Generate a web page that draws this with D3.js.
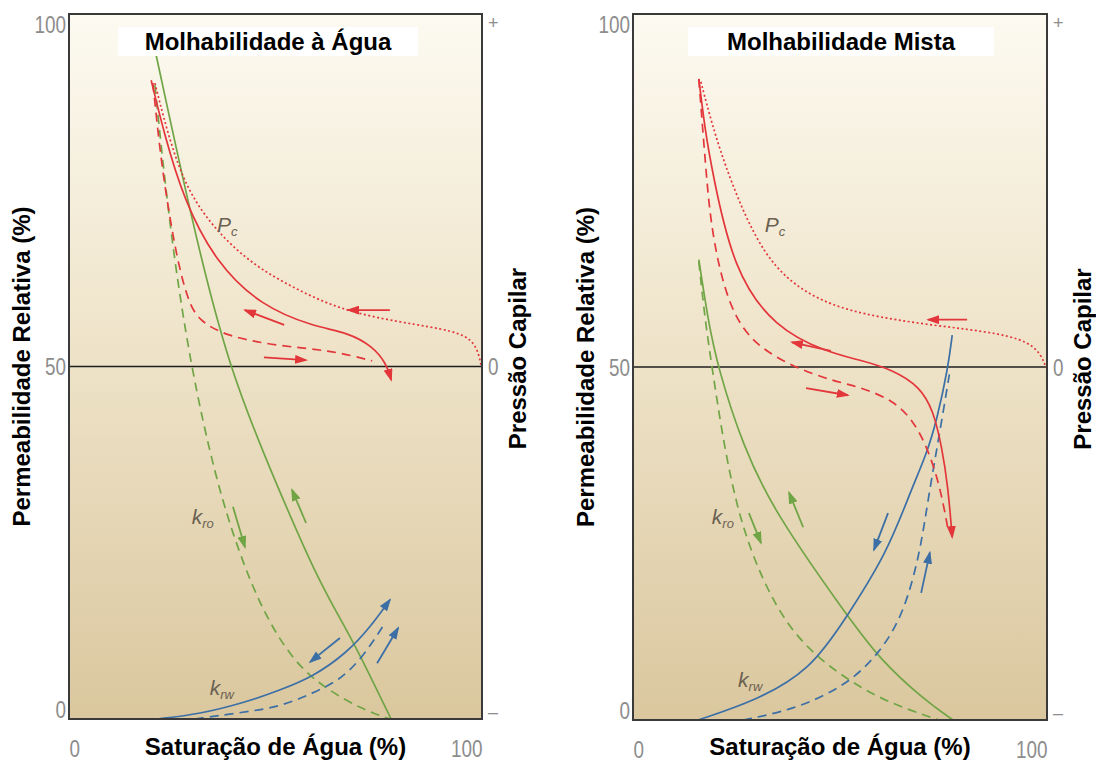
<!DOCTYPE html>
<html>
<head>
<meta charset="utf-8">
<script src="https://cdn.jsdelivr.net/npm/d3@7"></script>
<style>
  body { margin: 0; background: #fff; }
  svg text { font-family: "Liberation Sans", Arial, sans-serif; }
</style>
</head>
<body>
<svg id="chart" width="1096" height="762"></svg>
<script>
// values are [water saturation %, value %]; Pc uses the same vertical axis (50 = Pc zero)
const xTicks = [0, 100];
const yTicks = [0, 50, 100];
const pcTicks = [0, 50, 100];
const pcTickLabels = ["\u2013", "0", "+"];
const curveLabelText = [["P", "c"], ["k", "ro"], ["k", "rw"]];

// --- Molhabilidade à Água
const waterKroSolid = [[20.3, 96.3], [21.1, 94.2], [29.3, 71.8], [38.5, 49.8], [50.8, 32.5], [60.3, 19.7], [67.3, 12.6], [72.2, 7.0], [78.0, 0]];
const waterKroDashed = [[20.8, 89.9], [24.5, 68.9], [29.5, 49.8], [35.6, 33.9], [40.9, 24.0], [46.7, 15.5], [54.0, 8.4], [61.5, 4.5], [71.2, 1.3], [77.7, 0]];
const waterKrwSolid = [[21.3, 0], [31.7, 0.7], [42.4, 2.3], [51.1, 4.1], [59.1, 6.0], [67.3, 9.4], [72.9, 13.0], [77.7, 16.9]];
const waterKrwDashed = [[30.5, 0], [41.4, 0.9], [51.1, 1.7], [59.1, 3.7], [65.6, 5.5], [71.2, 8.8], [76.5, 13.6]];
const waterPcSolid = [[19.9, 90.6], [23.0, 83.1], [27.8, 73.6], [35.6, 64.7], [46.5, 58.6], [59.1, 55.7], [67.6, 54.8], [73.4, 52.9], [76.8, 50.5], [78.0, 48.1]];
const waterPcDashed = [[20.3, 90.2], [22.0, 80.7], [23.7, 73.6], [26.2, 65.1], [28.8, 59.4], [31.2, 56.6], [38.0, 54.3], [50.6, 52.9], [63.4, 52.3], [73.4, 50.8]];
const waterPcDotted = [[20.8, 90.2], [24.9, 80.7], [30.5, 72.6], [42.4, 65.1], [55.0, 60.9], [67.6, 57.6], [84.5, 55.9], [95.4, 54.8], [98.8, 52.9], [99.8, 50.1]];
const waterArrows = [
  ["pcDotted", 77.7, 58.0, 67.6, 58.0],
  ["pcSolid", 52.1, 55.9, 42.6, 58.0],
  ["pcDashed", 47.2, 51.3, 57.4, 50.9],
  ["kroSolid", 57.4, 27.8, 54.0, 32.5],
  ["kroDashed", 39.7, 30.1, 42.6, 24.4],
  ["krwSolid", 65.6, 11.5, 58.4, 8.1],
  ["krwDashed", 74.6, 7.9, 79.7, 12.9]
];
const waterLabelPos = [[38.3, 70.1], [32.4, 28.7], [37.0, 4.4]];

// --- Molhabilidade Mista
const mixedKroSolid = [[15.9, 65.2], [18.1, 56.7], [20.5, 49.9], [26.6, 38.7], [34.3, 29.3], [51.2, 15.2], [59.7, 8.5], [70.5, 2.8], [77.3, 0]];
const mixedKroDashed = [[15.9, 64.9], [17.4, 56.7], [19.1, 49.9], [22.0, 38.7], [25.8, 28.3], [31.2, 19.8], [37.9, 12.7], [46.9, 7.6], [59.7, 2.8], [73.9, 0]];
const mixedKrwSolid = [[15.7, 0], [30.0, 2.8], [42.8, 7.1], [51.2, 14.2], [61.4, 23.7], [66.9, 32.2], [71.0, 37.8], [73.4, 42.5], [76.1, 49.9], [77.1, 54.5]];
const mixedKrwDashed = [[26.6, 0], [38.4, 1.4], [51.2, 4.7], [59.7, 9.5], [65.5, 15.2], [69.3, 23.7], [71.0, 30.2], [72.9, 36.8], [74.6, 42.5], [76.6, 49.6]];
const mixedPcSolid = [[15.9, 90.8], [17.4, 83.6], [19.1, 77.8], [24.2, 63.7], [34.3, 55.5], [46.9, 52.1], [54.8, 51.0], [62.8, 49.6], [69.3, 47.2], [72.5, 43.9], [74.6, 38.7], [76.1, 33.0], [77.1, 25.9]];
const mixedPcDashed = [[15.9, 90.8], [17.6, 77.9], [19.1, 68.1], [24.2, 55.9], [34.3, 51.1], [46.9, 48.2], [54.8, 47.2], [62.8, 45.3], [67.6, 42.5], [71.0, 38.7], [73.7, 34.0], [75.4, 29.3], [76.1, 26.9]];
const mixedPcDotted = [[16.4, 90.4], [19.1, 84.3], [23.2, 76.8], [31.6, 65.2], [42.8, 59.8], [55.3, 57.4], [72.2, 55.9], [89.1, 54.8], [97.6, 53.1], [99.8, 49.9]];
const mixedArrows = [
  ["pcDotted", 80.7, 56.7, 71.3, 56.7],
  ["pcSolid", 47.8, 52.3, 38.4, 53.5],
  ["pcDashed", 41.8, 47.0, 51.9, 46.0],
  ["kroSolid", 41.1, 27.3, 37.7, 32.2],
  ["kroDashed", 28.0, 29.3, 30.9, 25.1],
  ["krwSolid", 61.6, 29.3, 58.2, 24.1],
  ["krwDashed", 69.6, 18.0, 71.7, 23.7]
];
const mixedLabelPos = [[34.3, 70.1], [21.7, 28.8], [28.3, 5.7]];

const RED = "#e3363b", GREEN = "#70a546", BLUE = "#3b6fa6";
const styles = {
  kroSolid:  { color: GREEN, dash: null },
  kroDashed: { color: GREEN, dash: "9,6" },
  krwSolid:  { color: BLUE,  dash: null },
  krwDashed: { color: BLUE,  dash: "9,6" },
  pcSolid:   { color: RED,   dash: null },
  pcDashed:  { color: RED,   dash: "9,6" },
  pcDotted:  { color: RED,   dash: "2,2.5" }
};

const panels = [
  {
    title: "Molhabilidade à Água", left: 69, top: 14, w: 413, h: 705,
    titleCx: 268, boxW: 300,
    curves: { kroSolid: waterKroSolid, kroDashed: waterKroDashed, krwSolid: waterKrwSolid, krwDashed: waterKrwDashed,
              pcDashed: waterPcDashed, pcDotted: waterPcDotted, pcSolid: waterPcSolid },
    endArrows: ["pcSolid", "krwSolid"], arrows: waterArrows, labels: waterLabelPos
  },
  {
    title: "Molhabilidade Mista", left: 633, top: 14, w: 414, h: 706,
    titleCx: 841, boxW: 306,
    curves: { kroSolid: mixedKroSolid, kroDashed: mixedKroDashed, krwSolid: mixedKrwSolid, krwDashed: mixedKrwDashed,
              pcDashed: mixedPcDashed, pcDotted: mixedPcDotted, pcSolid: mixedPcSolid },
    endArrows: ["pcSolid"], arrows: mixedArrows, labels: mixedLabelPos
  }
];

const svg = d3.select("#chart");
const defs = svg.append("defs");

const grad = defs.append("linearGradient").attr("id", "bg-grad")
  .attr("x1", "0%").attr("x2", "0%").attr("y1", "0%").attr("y2", "100%");
grad.append("stop").attr("offset", "0%").attr("stop-color", "#fcfaf1");
grad.append("stop").attr("offset", "40%").attr("stop-color", "#f1e7cf");
grad.append("stop").attr("offset", "100%").attr("stop-color", "#dac79e");

// one arrowhead marker per colour
[["red", RED], ["green", GREEN], ["blue", BLUE]].forEach(([name, col]) => {
  defs.append("marker")
    .attr("id", "head-" + name)
    .attr("viewBox", "0 0 13 9")
    .attr("refX", 11).attr("refY", 4.5)
    .attr("markerUnits", "userSpaceOnUse")
    .attr("markerWidth", 13).attr("markerHeight", 9)
    .attr("orient", "auto")
    .append("path").attr("d", "M0,0 L13,4.5 L0,9 Z").attr("fill", col);
});
const headFor = col => col === RED ? "url(#head-red)" : col === GREEN ? "url(#head-green)" : "url(#head-blue)";

// narrow-looking tick digits: squeeze each label to ~10px per character
function squeeze(sel, size) {
  sel.attr("font-size", size).attr("fill", "#8d8d8d")
    .attr("lengthAdjust", "spacingAndGlyphs")
    .attr("textLength", function () { return this.textContent.length * 10.5; });
}

panels.forEach(p => {
  const x = d3.scaleLinear().domain([0, 100]).range([p.left, p.left + p.w]);
  const y = d3.scaleLinear().domain([0, 100]).range([p.top + p.h, p.top]);
  const g = svg.append("g");

  g.append("rect")
    .attr("x", p.left).attr("y", p.top).attr("width", p.w).attr("height", p.h)
    .attr("fill", "url(#bg-grad)");

  // Pc = 0 line
  g.append("line")
    .attr("x1", x(0)).attr("x2", x(100)).attr("y1", y(50)).attr("y2", y(50))
    .attr("stroke", "#1e1e1e").attr("stroke-width", 1.5);

  const line = d3.line()
    .x(d => x(d[0])).y(d => y(d[1]))
    .curve(d3.curveBasis);

  Object.entries(p.curves).forEach(([key, pts]) => {
    const st = styles[key];
    g.append("path")
      .attr("d", line(pts))
      .attr("fill", "none")
      .attr("stroke", st.color)
      .attr("stroke-width", 1.7)
      .attr("stroke-dasharray", st.dash)
      .attr("marker-end", p.endArrows.includes(key) ? headFor(st.color) : null);
  });

  // short direction arrows beside the curves
  g.selectAll(".dir-arrow")
    .data(p.arrows)
    .enter().append("line")
    .attr("class", "dir-arrow")
    .attr("x1", d => x(d[1])).attr("y1", d => y(d[2]))
    .attr("x2", d => x(d[3])).attr("y2", d => y(d[4]))
    .attr("stroke", d => styles[d[0]].color)
    .attr("stroke-width", 1.8)
    .attr("marker-end", d => headFor(styles[d[0]].color));

  // curve labels (Pc, kro, krw)
  p.labels.forEach((pos, i) => {
    const t = g.append("text")
      .attr("x", x(pos[0])).attr("y", y(pos[1]))
      .attr("text-anchor", "middle")
      .attr("dy", "0.35em")
      .attr("fill", "#6b6152")
      .attr("font-style", "italic")
      .attr("font-size", 21);
    t.append("tspan").text(curveLabelText[i][0]);
    t.append("tspan").attr("font-size", 13).attr("dy", "0.3em").text(curveLabelText[i][1]);
  });

  // title with white backing
  g.append("rect")
    .attr("x", p.titleCx - p.boxW / 2).attr("y", 27)
    .attr("width", p.boxW).attr("height", 29)
    .attr("fill", "#ffffff");
  g.append("text")
    .attr("x", p.titleCx).attr("y", 50)
    .attr("text-anchor", "middle")
    .attr("font-weight", "bold").attr("font-size", 24)
    .text(p.title);

  // frame
  g.append("rect")
    .attr("x", p.left).attr("y", p.top).attr("width", p.w).attr("height", p.h)
    .attr("fill", "none").attr("stroke", "#3a3a3a").attr("stroke-width", 2);

  // left axis
  const yAxis = g.append("g")
    .attr("transform", `translate(${p.left},0)`)
    .call(d3.axisLeft(y).tickValues(yTicks).tickSize(0).tickPadding(3));
  yAxis.select(".domain").remove();
  yAxis.selectAll("text")
    .call(squeeze, 23)
    .attr("dy", d => d === 100 ? "0.8em" : d === 0 ? "-0.05em" : "0.35em");

  // bottom axis
  const xAxis = g.append("g")
    .attr("transform", `translate(0,${p.top + p.h})`)
    .call(d3.axisBottom(x).tickValues(xTicks).tickSize(0).tickPadding(0));
  xAxis.select(".domain").remove();
  xAxis.selectAll("text")
    .call(squeeze, 23)
    .attr("text-anchor", d => d === 0 ? "start" : "end")
    .attr("dy", "1.65em");

  // right (capillary pressure) axis
  const pcAxis = g.append("g")
    .attr("transform", `translate(${p.left + p.w},0)`)
    .call(d3.axisRight(y).tickValues(pcTicks).tickSize(0).tickPadding(6)
      .tickFormat((d, i) => pcTickLabels[i]));
  pcAxis.select(".domain").remove();
  pcAxis.selectAll("text")
    .attr("font-size", d => d === 50 ? 23 : 18)
    .attr("fill", "#8d8d8d")
    .attr("dy", d => d === 100 ? "0.8em" : d === 0 ? "-0.1em" : "0.35em");
  pcAxis.selectAll("text").filter(d => d === 50).call(squeeze, 23);

  // axis titles
  g.append("text")
    .attr("x", x(50)).attr("y", 755)
    .attr("text-anchor", "middle")
    .attr("font-weight", "bold").attr("font-size", 24)
    .text("Saturação de Água (%)");

  const midY = p.top + p.h / 2;
  g.append("text")
    .attr("transform", `translate(${p.left - 47},${midY}) rotate(-90)`)
    .attr("text-anchor", "middle").attr("dy", "0.35em")
    .attr("font-weight", "bold").attr("font-size", 24)
    .text("Permeabilidade Relativa (%)");

  g.append("text")
    .attr("transform", `translate(${p.left + p.w + 36},${midY - 8}) rotate(-90)`)
    .attr("text-anchor", "middle").attr("dy", "0.35em")
    .attr("font-weight", "bold").attr("font-size", 24)
    .text("Pressão Capilar");
});
</script>
</body>
</html>
